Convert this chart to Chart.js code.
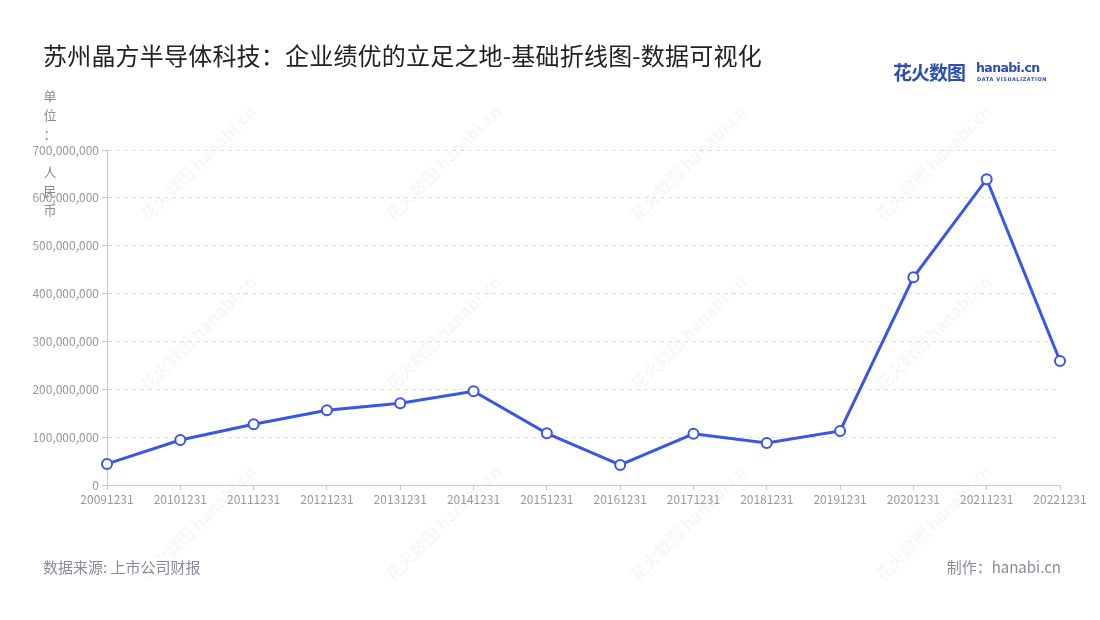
<!DOCTYPE html>
<html lang="zh">
<head>
<meta charset="utf-8">
<title>苏州晶方半导体科技</title>
<script src="https://cdn.jsdelivr.net/npm/chart.js@4"></script>
<style>
  html, body { margin: 0; padding: 0; background: #fff; }
  body { width: 1100px; height: 620px; position: relative; overflow: hidden;
         font-family: "Noto Sans CJK SC", "Noto Sans", sans-serif; }
  #wrap { position: absolute; left: 0; top: 0; width: 1100px; height: 620px; }
  .titulo { position: absolute; left: 43px; top: 37px; font-size: 24px; color: #222; letter-spacing: 0.2px; }
  .logo { position: absolute; left: 893px; top: 58px; color: #2b4eb0; white-space: nowrap; }
  .logo .cn { font-size: 19px; font-weight: bold; letter-spacing: -1px; }
  .logo .en { position: absolute; left: 83px; top: 2px; font-size: 12.5px; font-weight: bold; font-family: "DejaVu Sans", sans-serif; letter-spacing: -0.6px; }
  .logo .sub { position: absolute; left: 84px; top: 18px; font-size: 5px; font-weight: bold; letter-spacing: 0.6px; font-family: "DejaVu Sans", sans-serif; }
  .unidade { position: absolute; left: 43px; top: 86px; width: 14px; font-size: 13px; color: #8a8a9a; line-height: 19px; text-align: center; }
  .fonte { position: absolute; left: 43px; top: 556px; font-size: 15px; color: #8a8a9a; }
  .autor { position: absolute; right: 39px; top: 556px; font-size: 15px; color: #8a8a9a; }
  .marca { position: absolute; font-size: 17px; color: rgba(0,0,0,0.03); transform: rotate(-45deg); white-space: nowrap; font-weight: bold; pointer-events: none; }
</style>
</head>
<body>
<div id="wrap"><canvas id="graficoLinha" width="1100" height="620"></canvas></div>

<div class="titulo">苏州晶方半导体科技：企业绩优的立足之地-基础折线图-数据可视化</div>
<div class="logo"><span class="cn">花火数图</span><span class="en">hanabi.cn</span><span class="sub">DATA VISUALIZATION</span></div>
<div class="unidade">单<br>位<br>：<br><br>人<br>民<br>币</div>
<div class="fonte">数据来源: 上市公司财报</div>
<div class="autor">制作：hanabi.cn</div>

<script>
/* ============================================================
   DADOS
============================================================ */
const datas = [
  "20091231", "20101231", "20111231", "20121231", "20131231",
  "20141231", "20151231", "20161231", "20171231", "20181231",
  "20191231", "20201231", "20211231", "20221231",
];

const receita = [
  44000000, 94000000, 127000000, 156000000, 171000000,
  196000000, 108000000, 42000000, 107000000, 88000000,
  113000000, 434000000, 639000000, 259000000,
];

const ticksY = [0, 100000000, 200000000, 300000000, 400000000, 500000000, 600000000, 700000000];

/* ============================================================
   MARCA D'ÁGUA (fundo)
============================================================ */
[[120, 150], [365, 150], [610, 150], [855, 150],
 [120, 320], [365, 320], [610, 320], [855, 320],
 [120, 510], [365, 510], [610, 510], [855, 510]].forEach(([x, y]) => {
  const m = document.createElement("div");
  m.className = "marca";
  m.style.left = x + "px";
  m.style.top = y + "px";
  m.textContent = "花火数图 hanabi.cn";
  document.body.appendChild(m);
});

/* ============================================================
   GRÁFICO
============================================================ */
const fonteTick = { family: "'Noto Sans CJK SC', 'Noto Sans', sans-serif", size: 12 };

new Chart(document.getElementById("graficoLinha"), {
  type: "line",
  data: {
    labels: datas,
    datasets: [
      {
        data: receita,
        borderColor: "#3b55e6",
        backgroundColor: "#ffffff",
        borderWidth: 3,
        tension: 0,
        pointRadius: 5,
        pointBorderWidth: 2,
        pointBackgroundColor: "#ffffff",
        pointBorderColor: "#3b55e6",
      },
    ],
  },
  options: {
    responsive: false,
    animation: false,
    layout: { padding: { top: 150, right: 40, bottom: 105, left: 0 } },
    plugins: { legend: { display: false }, tooltip: { enabled: false } },
    scales: {
      x: {
        offset: false,
        grid: { drawOnChartArea: false, drawTicks: true, tickLength: 5, color: "#c8c8c8" },
        border: { color: "#c8c8c8", width: 1 },
        ticks: { color: "#999", font: fonteTick, maxRotation: 0, autoSkip: false, padding: 2 },
        afterFit: (s) => { s.height = 30; },
      },
      y: {
        min: 0,
        max: 700000000,
        afterBuildTicks: (s) => { s.ticks = ticksY.map((v) => ({ value: v })); },
        grid: { color: "#e0e0e0", tickLength: 5, tickColor: "#c8c8c8", tickBorderDash: [] },
        border: { color: "#c8c8c8", width: 1, dash: [4, 4] },
        ticks: {
          color: "#999",
          font: fonteTick,
          padding: 3,
          callback: (v) => Number(v).toLocaleString("en-US"),
        },
        afterFit: (s) => { s.width = 107; },
      },
    },
  },
});
</script>
</body>
</html>
